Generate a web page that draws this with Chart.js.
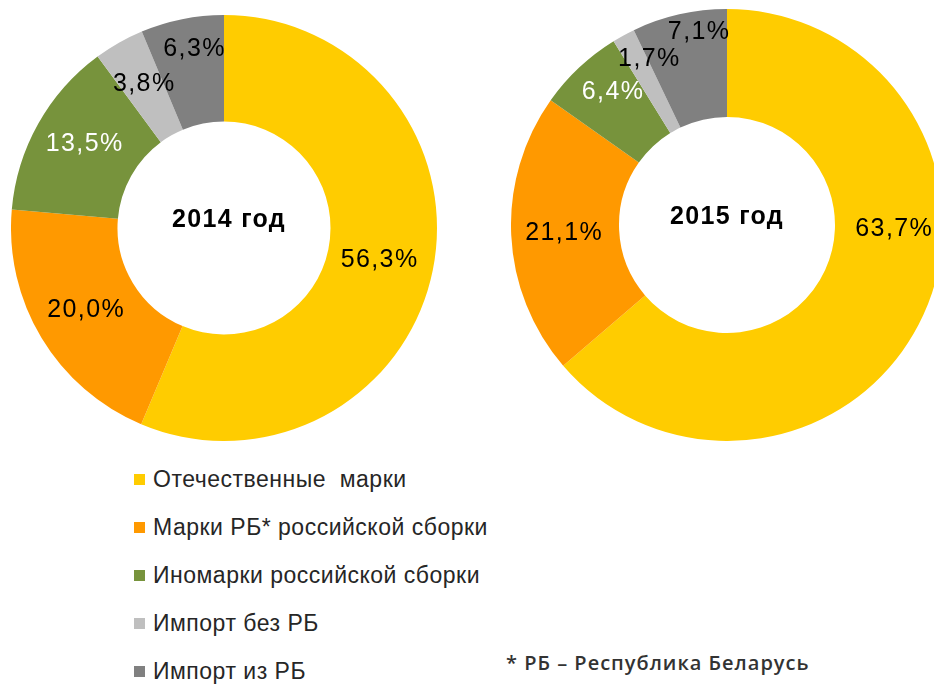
<!DOCTYPE html>
<html lang="ru">
<head>
<meta charset="utf-8">
<script src="https://cdn.jsdelivr.net/npm/chart.js@4.4.1/dist/chart.umd.min.js"></script>
<style>
  html, body { margin: 0; padding: 0; background: #fff; }
  body { width: 934px; height: 684px; position: relative; overflow: hidden; font-family: "Liberation Sans", Arial, sans-serif; }
  .chart-box { position: absolute; }
  #box2014 { left: 11px; top: 15px; width: 426px; height: 426px; }
  #box2015 { left: 511px; top: 9px; width: 432px; height: 432px; }
  #legend { position: absolute; left: 0; top: 0; }
  .legend-row { position: absolute; left: 134px; height: 24px; display: flex; align-items: center; white-space: pre; font-size: 23px; letter-spacing: 0.5px; color: #262626; }
  .legend-swatch { width: 11px; height: 11px; margin-right: 8px; flex: none; }
  #note { position: absolute; left: 506px; top: 649px; font-family: "Open Sans", sans-serif; font-weight: 600; font-size: 20px; letter-spacing: 1px; color: #333; white-space: pre; }
</style>
</head>
<body>
<div class="chart-box" id="box2014"><canvas id="chart2014"></canvas></div>
<div class="chart-box" id="box2015"><canvas id="chart2015"></canvas></div>
<div id="legend"></div>
<div id="note">* РБ – Республика Беларусь</div>
<script>
// ===== Data =====
const categories = [
  'Отечественные  марки',
  'Марки РБ* российской сборки',
  'Иномарки российской сборки',
  'Импорт без РБ',
  'Импорт из РБ'
];
const values2014 = [56.3, 20.0, 13.5, 3.8, 6.3];
const values2015 = [63.7, 21.1, 6.4, 1.7, 7.1];
const sliceColors = ['#FFCC00', '#FF9900', '#77933C', '#BFBFBF', '#808080'];
const labelColors = ['#000', '#000', '#fff', '#000', '#000'];

// ===== Label plugin (values on slices + title in the hole) =====
const sliceLabels = {
  id: 'sliceLabels',
  afterDatasetsDraw(chart, args, opts) {
    const ctx = chart.ctx;
    const meta = chart.getDatasetMeta(0);
    const data = chart.data.datasets[0].data;
    ctx.save();
    ctx.textAlign = 'center';
    ctx.textBaseline = 'middle';
    ctx.font = '25px "Liberation Sans", Arial, sans-serif';
    ctx.letterSpacing = '1.4px';
    meta.data.forEach((arc, i) => {
      const p = arc.getProps(['x', 'y', 'startAngle', 'endAngle', 'innerRadius', 'outerRadius'], true);
      const mid = (p.startAngle + p.endAngle) / 2;
      const r = (p.innerRadius + p.outerRadius) / 2;
      const shift = opts.shifts[i] || [0, 0];
      const x = p.x + Math.cos(mid) * r + shift[0];
      const y = p.y + Math.sin(mid) * r + shift[1];
      ctx.fillStyle = labelColors[i];
      ctx.fillText(data[i].toFixed(1).replace('.', ',') + '%', x, y);
    });
    const c = meta.data[0];
    ctx.font = 'bold 25px "Liberation Sans", Arial, sans-serif';
    ctx.letterSpacing = '1.3px';
    ctx.fillStyle = '#000';
    ctx.fillText(opts.title, c.x + opts.titleDx, c.y - 8);
    ctx.restore();
  }
};

function makeDoughnut(id, values, title, shifts, titleDx) {
  return new Chart(document.getElementById(id), {
    type: 'doughnut',
    data: {
      labels: categories,
      datasets: [{
        data: values,
        backgroundColor: sliceColors,
        borderWidth: 0,
        hoverOffset: 0
      }]
    },
    options: {
      responsive: true,
      maintainAspectRatio: false,
      animation: false,
      cutout: '50%',
      layout: { padding: 0 },
      plugins: {
        legend: { display: false },
        tooltip: { enabled: false },
        sliceLabels: { title: title, shifts: shifts, titleDx: titleDx }
      }
    },
    plugins: [sliceLabels]
  });
}

makeDoughnut('chart2014', values2014, '2014 год',
  [[-1, 0], [-1, 0], [0, -6], [-1, -5], [2, -22]], 5);
makeDoughnut('chart2015', values2015, '2015 год',
  [[20, -63], [-1, 0], [-3, -15], [0, -24], [8, -35]], 0);

// ===== Legend =====
const legendEl = document.getElementById('legend');
categories.forEach((name, i) => {
  const row = document.createElement('div');
  row.className = 'legend-row';
  row.style.top = (467 + i * 48) + 'px';
  const sw = document.createElement('span');
  sw.className = 'legend-swatch';
  sw.style.background = sliceColors[i];
  row.appendChild(sw);
  row.appendChild(document.createTextNode(name));
  legendEl.appendChild(row);
});
</script>
</body>
</html>
